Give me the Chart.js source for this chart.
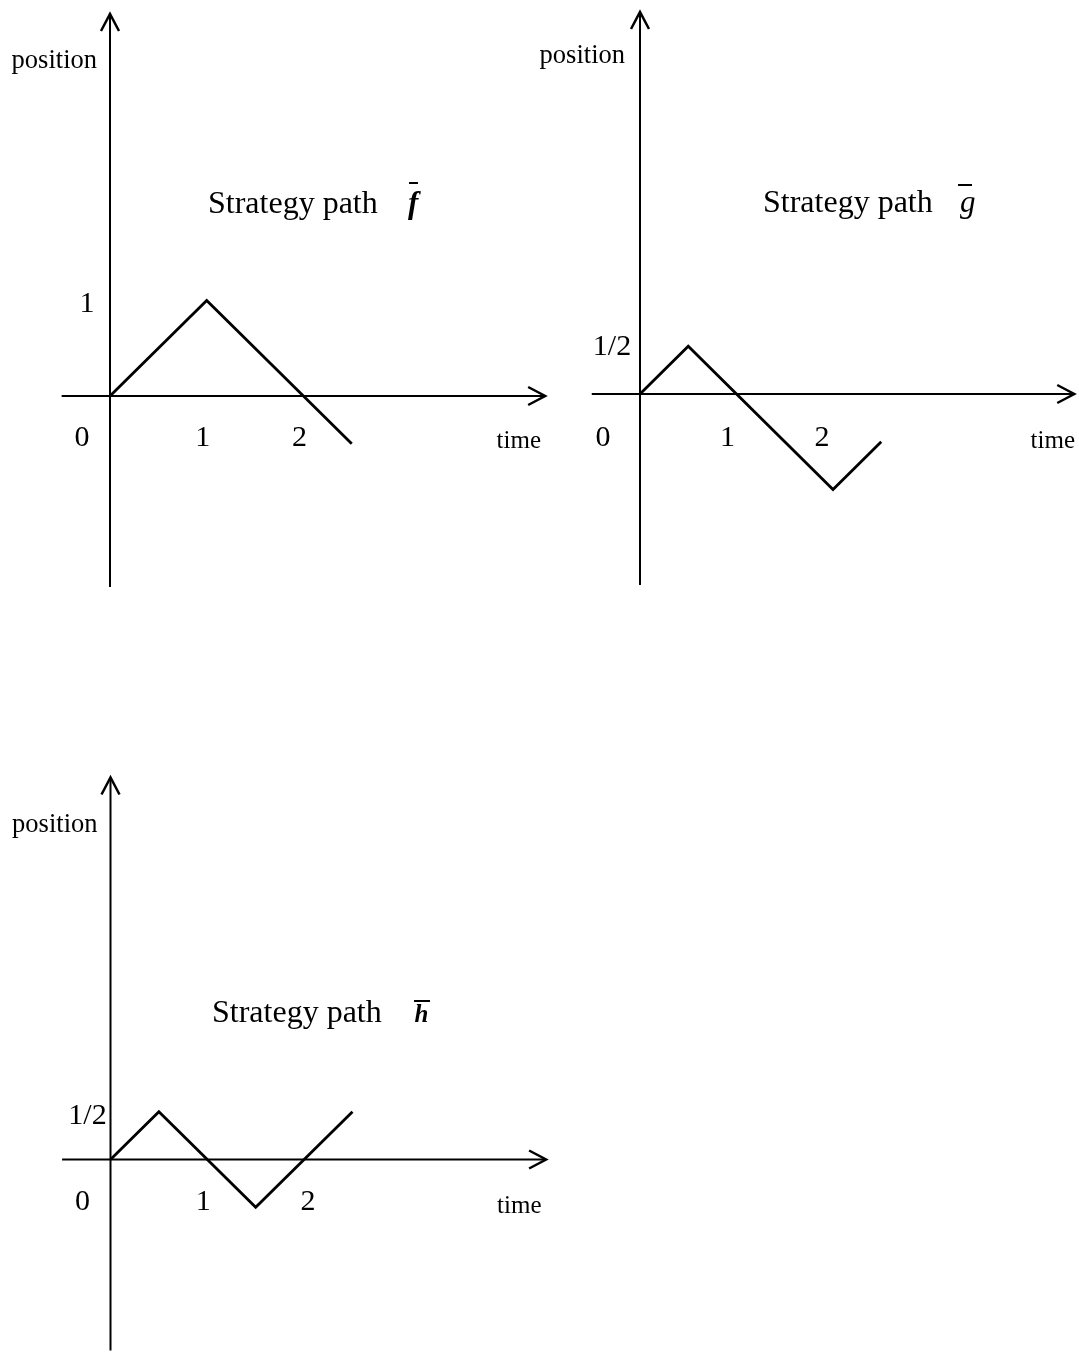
<!DOCTYPE html>
<html>
<head>
<meta charset="utf-8">
<script src="https://cdn.jsdelivr.net/npm/chart.js@4"></script>
<style>
  html, body { margin: 0; padding: 0; background: #ffffff; }
  #wrap { position: relative; width: 1079px; height: 1359px; background: #ffffff; }
  canvas { position: absolute; left: 0; top: 0; }
</style>
</head>
<body>
<div id="wrap">
  <canvas id="c1" width="1079" height="1359"></canvas>
  <canvas id="c2" width="1079" height="1359"></canvas>
  <canvas id="c3" width="1079" height="1359"></canvas>
</div>
<script>
// ---------- DATA ----------
const timeF = [0, 1, 2.5];
const posF  = [0, 1, -0.5];
const timeG = [0, 0.5, 2, 2.5];
const posG  = [0, 0.5, -1, -0.5];
const timeH = [0, 0.5, 1.5, 2.5];
const posH  = [0, 0.5, -0.5, 0.5];

const xTickValues = [1, 2];
const xTickLabels = ['1', '2'];
const yTickValueF = 1;   const yTickLabelF = '1';
const yTickValueG = 0.5; const yTickLabelG = '1/2';
const yTickValueH = 0.5; const yTickLabelH = '1/2';
const originLabel = '0';
const xAxisName = 'time';
const yAxisName = 'position';
const titleText = 'Strategy path';
const pathNames = ['f', 'g', 'h'];
const axisTimeRange = [-0.5, 4.5];
const axisPosRange = [-2, 4];

// ---------- LAYOUT (pixels) ----------
const W = 1079, H = 1359;
const layouts = [
  { ox: 110,   oy: 396,    ux: 96.7, uy: 95.5,
    tickDx: [-4, -4], zeroDx: -28, yTickDx: -23, yTickDy: 4, tickDy: 42,
    timeDx: 431, timeDy: 52, posDx: -13, posY: 68,
    titleDx: 98, titleDy: -183, symDx: 298, symSize: 31, barX: [409, 418], barY: 183, symStyle: 'italic bold' },
  { ox: 640,   oy: 394,    ux: 96.5, uy: 95.5,
    tickDx: [-9, -11], zeroDx: -37, yTickDx: -28, yTickDy: 1, tickDy: 44,
    timeDx: 435, timeDy: 54, posDx: -15, posY: 63,
    titleDx: 123, titleDy: -182, symDx: 320, symSize: 31, barX: [958, 972], barY: 185, symStyle: 'italic' },
  { ox: 110.5, oy: 1159.5, ux: 96.8, uy: 95.5,
    tickDx: [-4, 4], zeroDx: -28, yTickDx: -23, yTickDy: 4, tickDy: 43,
    timeDx: 431, timeDy: 53, posDx: -13, posY: 832,
    titleDx: 101.5, titleDy: -137.5, symDx: 304, symSize: 25, barX: [414, 430], barY: 1001, symStyle: 'italic bold' }
];

const SERIF = '"Liberation Serif", "Times New Roman", serif';

const decorPlugin = {
  id: 'decor',
  beforeDatasetsDraw(chart, args, o) {
    const ctx = chart.ctx;
    const xs = chart.scales.x, ys = chart.scales.y;
    const L = o.layout;
    ctx.save();
    ctx.strokeStyle = '#000';
    ctx.fillStyle = '#000';
    ctx.lineWidth = 2;
    ctx.lineCap = 'butt';
    // x axis
    const x0 = xs.getPixelForValue(axisTimeRange[0]);
    const x1 = xs.getPixelForValue(axisTimeRange[1]);
    const y00 = ys.getPixelForValue(0);
    ctx.beginPath(); ctx.moveTo(x0, y00); ctx.lineTo(x1, y00); ctx.stroke();
    ctx.lineWidth = 2.5;
    ctx.beginPath();
    ctx.moveTo(x1 - 17, y00 - 9); ctx.lineTo(x1, y00); ctx.lineTo(x1 - 17, y00 + 9);
    ctx.stroke();
    // y axis
    ctx.lineWidth = 2;
    const xx0 = xs.getPixelForValue(0);
    const yb = ys.getPixelForValue(axisPosRange[0]);
    const yt = ys.getPixelForValue(axisPosRange[1]);
    ctx.beginPath(); ctx.moveTo(xx0, yb); ctx.lineTo(xx0, yt); ctx.stroke();
    ctx.lineWidth = 2.5;
    ctx.beginPath();
    ctx.moveTo(xx0 - 9, yt + 17); ctx.lineTo(xx0, yt); ctx.lineTo(xx0 + 9, yt + 17);
    ctx.stroke();

    // tick labels
    ctx.font = '30px ' + SERIF;
    ctx.textAlign = 'center';
    ctx.textBaseline = 'middle';
    xTickValues.forEach((v, i) => {
      ctx.fillText(xTickLabels[i], xs.getPixelForValue(v) + L.tickDx[i], y00 + L.tickDy);
    });
    ctx.fillText(originLabel, xx0 + L.zeroDx, y00 + L.tickDy);
    ctx.fillText(o.yTickLabel, xx0 + L.yTickDx, ys.getPixelForValue(o.yTickValue) + L.yTickDy);

    // axis names
    ctx.textBaseline = 'alphabetic';
    ctx.textAlign = 'right';
    ctx.font = '25px ' + SERIF;
    ctx.fillText(xAxisName, xx0 + L.timeDx, y00 + L.timeDy);
    ctx.font = '26.5px ' + SERIF;
    ctx.fillText(yAxisName, xx0 + L.posDx, L.posY);

    // title
    ctx.font = '32px ' + SERIF;
    ctx.textAlign = 'left';
    ctx.fillText(titleText, xx0 + L.titleDx, y00 + L.titleDy);
    ctx.font = L.symStyle + ' ' + L.symSize + 'px ' + SERIF;
    ctx.fillText(o.pathName, xx0 + L.symDx, y00 + L.titleDy);
    ctx.lineWidth = 2;
    ctx.beginPath(); ctx.moveTo(L.barX[0], L.barY); ctx.lineTo(L.barX[1], L.barY); ctx.stroke();
    ctx.restore();
  }
};

function makeChart(id, times, positions, L, yTickValue, yTickLabel, pathName) {
  const pts = times.map((t, i) => ({ x: t, y: positions[i] }));
  new Chart(document.getElementById(id), {
    type: 'scatter',
    data: {
      datasets: [{
        data: pts,
        showLine: true,
        borderColor: '#000',
        borderWidth: 2.8,
        pointRadius: 0,
        tension: 0,
        fill: false
      }]
    },
    options: {
      responsive: false,
      animation: false,
      layout: { padding: 0 },
      plugins: {
        legend: { display: false },
        tooltip: { enabled: false },
        decor: { layout: L, yTickValue, yTickLabel, pathName }
      },
      scales: {
        x: { type: 'linear', display: false, min: -L.ox / L.ux, max: (W - L.ox) / L.ux },
        y: { type: 'linear', display: false, min: -(H - L.oy) / L.uy, max: L.oy / L.uy }
      },
      events: []
    },
    plugins: [decorPlugin]
  });
}

makeChart('c1', timeF, posF, layouts[0], yTickValueF, yTickLabelF, pathNames[0]);
makeChart('c2', timeG, posG, layouts[1], yTickValueG, yTickLabelG, pathNames[1]);
makeChart('c3', timeH, posH, layouts[2], yTickValueH, yTickLabelH, pathNames[2]);
</script>
</body>
</html>
